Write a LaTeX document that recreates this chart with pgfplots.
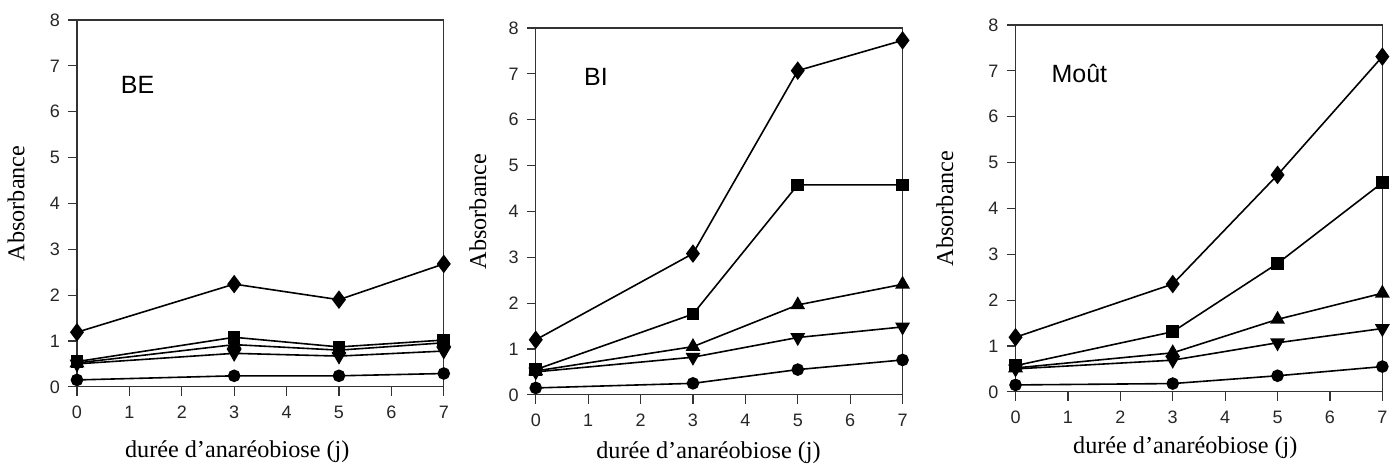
\documentclass[border=0pt]{standalone}
\usepackage{fontspec}
\setmainfont{Liberation Serif}
\newfontfamily\arial{Liberation Sans}
\usepackage{pgfplots}
\pgfplotsset{compat=1.18}
\tikzset{plab/.style={anchor=base west, inner sep=0pt, font=\arial\fontsize{12.5}{14}\selectfont}}
\pgfplotsset{
  panel/.style={
    scale only axis, width=183.5pt, height=183.5pt, anchor=south west,
    xmin=0, xmax=7, ymin=0, ymax=8,
    xtick={0,...,7}, ytick={0,...,8},
    xtick pos=left, ytick pos=left, tick align=outside,
    major tick length=4.5pt,
    axis line style={line width=0.6pt, black!80},
    every tick/.style={line width=0.6pt, black!80},
    tick label style={font=\arial\fontsize{9}{10}\selectfont, text=black!85},
    /pgf/number format/assume math mode=true,
    xticklabel style={yshift=-1.5pt},
    yticklabel style={xshift=-0.5pt},
    label style={font=\fontsize{12.1}{13}\selectfont},
    clip=false,
    every axis plot/.append style={black, line width=0.8pt},
  },
  dia/.style={mark=diamond*, mark size=4pt},
  sq/.style={mark=square*, mark size=2.75pt},
  tri/.style={mark=triangle*, mark size=3.5pt},
  dtri/.style={mark=triangle*, mark size=3.5pt, mark options={rotate=180}},
  circ/.style={mark=*, mark size=2.75pt},
}
\begin{document}
\begin{tikzpicture}
\path (0,0) rectangle (697pt,233pt);
% Panel BE
\begin{axis}[panel, at={(38.5pt,39.5pt)},
  xlabel={durée d’anaréobiose (j)}, ylabel={Absorbance},
  xlabel style={at={(axis description cs:0.437,-0.177)}, anchor=center},
  ylabel style={at={(axis description cs:-0.166,0.5)}, anchor=center, rotate=0}]
\addplot[dia] coordinates {(0,1.19) (3,2.24) (5,1.9) (7,2.68)};
\addplot[sq] coordinates {(0,0.55) (3,1.08) (5,0.87) (7,1.02)};
\addplot[tri] coordinates {(0,0.52) (3,0.92) (5,0.80) (7,0.96)};
\addplot[dtri] coordinates {(0,0.50) (3,0.73) (5,0.67) (7,0.78)};
\addplot[circ] coordinates {(0,0.15) (3,0.24) (5,0.24) (7,0.29)};
\node[plab] at (axis cs:0.83,6.40) {BE};
\end{axis}
% Panel BI
\begin{axis}[panel, at={(268pt,35.5pt)},
  xlabel={durée d’anaréobiose (j)}, ylabel={Absorbance},
  xlabel style={at={(axis description cs:0.471,-0.158)}, anchor=center},
  ylabel style={at={(axis description cs:-0.158,0.5)}, anchor=center, rotate=0}]
\addplot[dia] coordinates {(0,1.20) (3,3.08) (5,7.07) (7,7.73)};
\addplot[sq] coordinates {(0,0.55) (3,1.76) (5,4.58) (7,4.58)};
\addplot[tri] coordinates {(0,0.52) (3,1.05) (5,1.96) (7,2.41)};
\addplot[dtri] coordinates {(0,0.50) (3,0.82) (5,1.25) (7,1.48)};
\addplot[circ] coordinates {(0,0.15) (3,0.25) (5,0.55) (7,0.76)};
\node[plab] at (axis cs:0.915,6.74) {BI};
\end{axis}
% Panel Mout
\begin{axis}[panel, at={(508pt,37pt)},
  xlabel={durée d’anaréobiose (j)}, ylabel={Absorbance},
  xlabel style={at={(axis description cs:0.463,-0.153)}, anchor=center},
  ylabel style={at={(axis description cs:-0.193,0.5)}, anchor=center, rotate=0}]
\addplot[dia] coordinates {(0,1.19) (3,2.35) (5,4.73) (7,7.31)};
\addplot[sq] coordinates {(0,0.57) (3,1.31) (5,2.80) (7,4.56)};
\addplot[tri] coordinates {(0,0.52) (3,0.85) (5,1.58) (7,2.15)};
\addplot[dtri] coordinates {(0,0.50) (3,0.69) (5,1.07) (7,1.38)};
\addplot[circ] coordinates {(0,0.15) (3,0.18) (5,0.35) (7,0.55)};
\node[plab] at (axis cs:0.68,6.74) {Moût};
\end{axis}
\end{tikzpicture}
\end{document}
